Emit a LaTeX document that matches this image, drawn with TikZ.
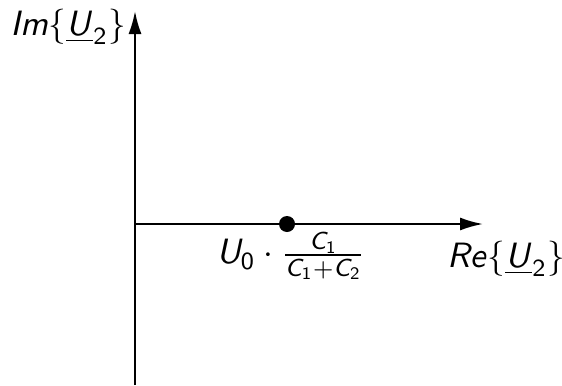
\documentclass[tikz,border=0pt]{standalone}
\usepackage{amsmath,amssymb}
\usepackage{tikz}
\usetikzlibrary{arrows.meta}
% serifenlose Formeln
\DeclareSymbolFont{letters}{OT1}{cmss}{m}{sl}
\DeclareSymbolFont{operators}{OT1}{cmss}{m}{n}

\begin{document}
\begin{tikzpicture}[x=0.01cm, y=-0.01cm, line join=round, >={Latex[length=2.3mm,width=1.3mm]}]
	\useasboundingbox (0,0) rectangle (562,385);
	% ACHSEN
	\coordinate (O) at (135,224);
	\coordinate (ybot) at (135,385);
	\coordinate (ytop) at (135,11);
	\coordinate (xend) at (483,224);
	\draw[->, line width=0.6pt] (ybot) -- (ytop);
	\draw[->, line width=0.6pt] (O) -- (xend);
	
	% PUNKT
	\fill (287,224) circle (8) coordinate (p);
	\node (plabel) at (291,256) {$U_0\cdot\frac{C_1}{C_1+C_2}$};
	
	% BESCHRIFTUNG
	\node (imlabel) at (68,27) {$Im\{\underline{U}_2\}$};
	\node (relabel) at (506,259) {$Re\{\underline{U}_2\}$};
\end{tikzpicture}
\end{document}
